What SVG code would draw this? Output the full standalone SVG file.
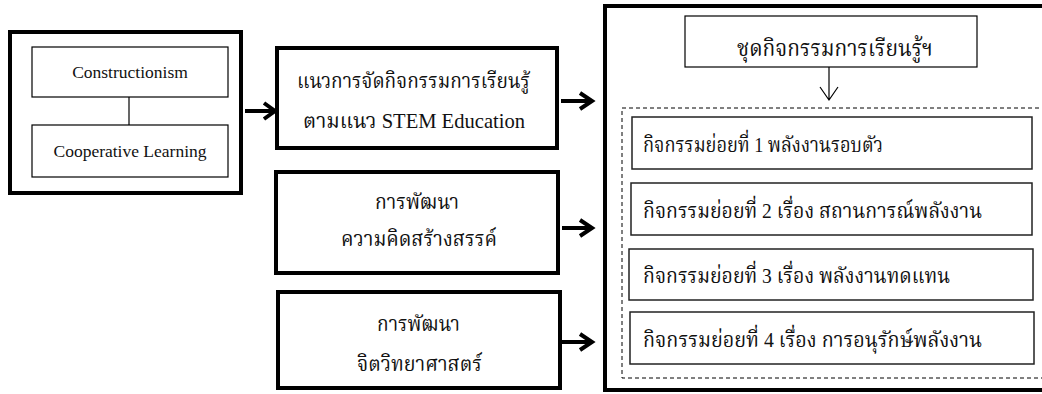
<svg xmlns="http://www.w3.org/2000/svg" width="1042" height="394" viewBox="0 0 1042 394">
<defs>
<style>
.thick{fill:#fff;stroke:#000;stroke-width:4}
.thin{fill:#fff;stroke:#000;stroke-width:1.2}
.sub{fill:#fff;stroke:#222;stroke-width:1.5}
.dash{fill:none;stroke:#000;stroke-width:1;stroke-dasharray:4 3}
.t{font-family:'Liberation Serif','Noto Serif Thai','Noto Sans Thai',serif;fill:#111}
.lat{font-size:17.5px}
.mid{font-size:22px}
.top{font-size:23px}
.sb{font-size:21px}
.arr{fill:none;stroke:#000;stroke-width:4;stroke-linejoin:miter}
.arrthin{fill:none;stroke:#000;stroke-width:1.2}
</style>
</defs>
<rect width="1042" height="394" fill="#fff"/>
<g id="theory">
<rect class="thick" x="10" y="32" width="231" height="161"/>
<g id="constructionism">
<rect class="thin" x="32" y="47" width="196" height="50"/>
<text class="t lat" x="130" y="78" text-anchor="middle">Constructionism</text>
</g>
<g id="cooperative">
<rect class="thin" x="32" y="125" width="196" height="52"/>
<text class="t lat" x="130" y="157" text-anchor="middle">Cooperative Learning</text>
</g>
</g>
<g id="stem">
<rect class="thick" x="277" y="48" width="280" height="100"/>
<text class="t mid" x="297" y="88" textLength="233" lengthAdjust="spacingAndGlyphs">แนวการจัดกิจกรรมการเรียนรู้</text>
<text class="t mid" x="303" y="128" textLength="222" lengthAdjust="spacingAndGlyphs">ตามแนว STEM Education</text>
</g>
<g id="creativity">
<rect class="thick" x="276" y="172" width="282" height="101"/>
<text class="t mid" x="375" y="209" textLength="84" lengthAdjust="spacingAndGlyphs">การพัฒนา</text>
<text class="t mid" x="341" y="246" textLength="156" lengthAdjust="spacingAndGlyphs">ความคิดสร้างสรรค์</text>
</g>
<g id="scimind">
<rect class="thick" x="278" y="292" width="282" height="96"/>
<text class="t mid" x="377" y="331" textLength="83" lengthAdjust="spacingAndGlyphs">การพัฒนา</text>
<text class="t mid" x="357" y="371" textLength="125" lengthAdjust="spacingAndGlyphs">จิตวิทยาศาสตร์</text>
</g>
<g id="activityset">
<rect class="thick" x="605" y="6" width="445" height="384"/>
<g id="settitle">
<rect class="thin" x="685" y="16" width="292" height="51"/>
<text class="t top" x="737" y="56" textLength="196" lengthAdjust="spacingAndGlyphs">ชุดกิจกรรมการเรียนรู้ฯ</text>
</g>
<rect class="dash" x="622" y="108" width="430" height="270"/>
<g id="act1">
<rect class="sub" x="632" y="117" width="400" height="52"/>
<text class="t sb" x="643" y="152" textLength="240" lengthAdjust="spacingAndGlyphs">กิจกรรมย่อยที่ 1 พลังงานรอบตัว</text>
</g>
<g id="act2">
<rect class="sub" x="631" y="183" width="401" height="52"/>
<text class="t sb" x="643" y="218" textLength="339" lengthAdjust="spacingAndGlyphs">กิจกรรมย่อยที่ 2 เรื่อง สถานการณ์พลังงาน</text>
</g>
<g id="act3">
<rect class="sub" x="629" y="249" width="404" height="51"/>
<text class="t sb" x="643" y="283" textLength="307" lengthAdjust="spacingAndGlyphs">กิจกรรมย่อยที่ 3 เรื่อง พลังงานทดแทน</text>
</g>
<g id="act4">
<rect class="sub" x="630" y="312" width="404" height="52"/>
<text class="t sb" x="643" y="347" textLength="339" lengthAdjust="spacingAndGlyphs">กิจกรรมย่อยที่ 4 เรื่อง การอนุรักษ์พลังงาน</text>
</g>
</g>
<g id="connectors">
<line x1="129" y1="97" x2="129" y2="125" stroke="#000" stroke-width="1.2"/>
<path class="arr" d="M245 111H275M264 103L275 111L264 119"/>
<path class="arr" d="M561 101H592M580 93L592 101L580 109"/>
<path class="arr" d="M562 228H592M580 220L592 228L580 236"/>
<path class="arr" d="M562 342H592M580 334L592 342L580 350"/>
<path class="arrthin" d="M829 67V100M820 87L829 100L838 87"/>
</g>
</svg>
